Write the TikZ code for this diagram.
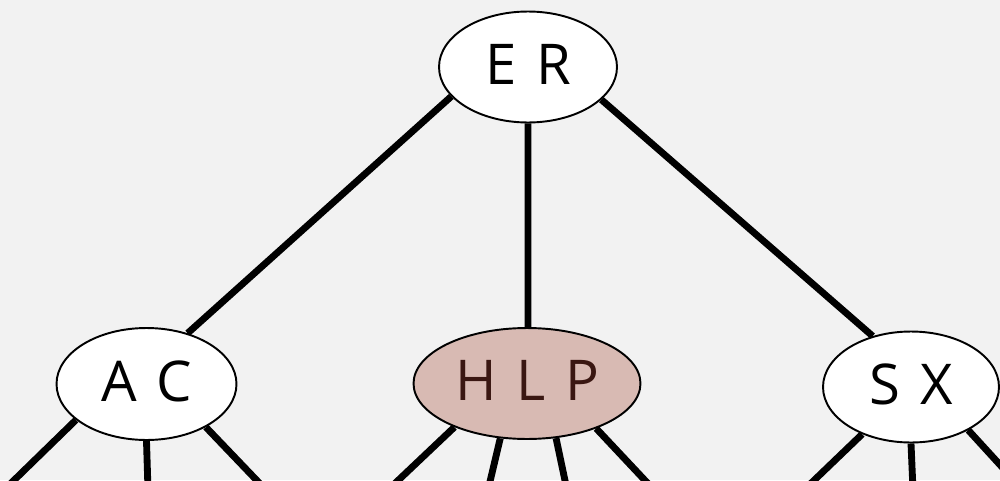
\documentclass[tikz,border=0pt]{standalone}
\usepackage{fontspec}
\setmainfont[WordSpace=1.35]{Open Sans}
\usetikzlibrary{shapes.geometric,backgrounds}
\definecolor{bgcol}{HTML}{F2F2F2}
\definecolor{hlpfill}{HTML}{D8BAB3}
\definecolor{hlptext}{HTML}{3A1712}
\tikzset{
	knot/.style={ellipse, draw=black, line width=1.1pt, fill=white, inner sep=0pt, minimum width=3.56cm, minimum height=2.22cm, font=\fontsize{32}{36}\selectfont},
	link/.style={line width=3.9pt, black},
}
\begin{document}
\begin{tikzpicture}[x=0.02cm, y=-0.02cm, line join=round]
	\useasboundingbox (0,0) rectangle (1000,480);
	\node[knot] (er) at (528,67) {\raisebox{3pt}{E R}};
	\node[knot, minimum width=3.6cm, minimum height=2.24cm] (ac) at (146.5,384) {\raisebox{3pt}{A C}};
	\node[knot, minimum width=4.54cm, fill=hlpfill, text=hlptext] (hlp) at (527,383.5) {\raisebox{3pt}{H L P}};
	\node[knot, minimum width=3.52cm] (sx) at (911,387) {\raisebox{3pt}{S X}};
	% loose ends below the leaves
	\coordinate (ac1) at (4,490); \coordinate (ac2) at (148,490); \coordinate (ac3) at (266,490);
	\coordinate (hlp1) at (388,490); \coordinate (hlp2) at (488,490);
	\coordinate (hlp3) at (567,490); \coordinate (hlp4) at (654,490);
	\coordinate (sx1) at (804,490); \coordinate (sx2) at (913,490); \coordinate (sx3) at (1023,490);
	\begin{scope}[on background layer]
		\fill[bgcol] (0,0) rectangle (1000,480);
		\draw[link] (er.201)--(ac.51) (er.270)--(er.270 |- hlp.90) (er.336)--(sx.127);
		\draw[link] (ac.207)--(ac1) (ac.270)--(ac2) (ac.324)--(ac3);
		\draw[link] (hlp.211)--(hlp1) (hlp.244)--(hlp2) (hlp.298)--(hlp3) (hlp.327)--(hlp4);
		\draw[link] (sx.224)--(sx1) (sx.270)--(sx2) (sx.323)--(sx3);
	\end{scope}
\end{tikzpicture}
\end{document}
